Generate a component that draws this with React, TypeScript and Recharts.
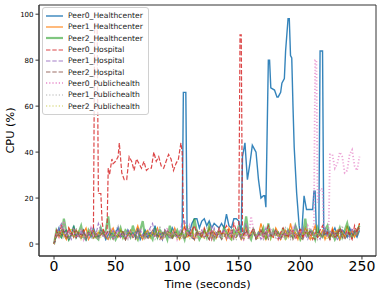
import { LineChart, Line, XAxis, YAxis, Legend, Label, ReferenceArea } from 'recharts';

// sampling helper for the regular 2-second parts of the log
const range = (from: number, to: number, step = 2) => {
  const out: number[] = [];
  for (let t = from; t <= to; t += step) out.push(t);
  return out;
};

const time = range(0, 248);

const hcPeer1 = [0,5,3,6,4,2,7,5,3,6, 4,3,5,7,2,4,6,3,5,4, 6,3,2,5,7,4,3,6,5,2, 4,6,3,5,8,4,2,5,6,3, 5,4,7,3,2,6,4,5,3,7, 4,2,5,8,3,4,6,2,5,4, 3,6,4,7,2,5,3,6,4,5, 2,7,4,3,6,5,2,4,8,3, 5,6,3,4,9,5,2,6,4,3, 7,5,2,4,6,3,9,4,5,2, 6,3,7,4,2,5,8,3,4,6, 2,5,3,7,4,6,2,5,3,8, 4,6,3,5,9];
const hcPeer2 = [0,6,4,3,11,5,2,4,7,3, 5,8,3,2,6,4,5,3,2,7, 4,6,12,3,5,2,4,7,3,6, 5,3,8,4,2,6,10,3,5,4, 2,7,3,6,4,5,2,8,3,4, 6,3,5,2,7,4,3,11,5,2, 4,6,3,8,5,2,4,6,3,7, 5,3,2,6,4,8,3,5,12,4, 2,6,3,5,4,7,2,9,3,6, 4,5,3,7,2,6,4,3,8,5, 2,4,11,3,6,5,2,7,4,3, 6,8,3,5,2,4,7,3,6,9, 4,3,5,6,8];
const hospPeer1 = [0,4,7,9,5,3,6,2,4,5, 3,6,4,2,5,7,3,4,9,6, 3,5,2,4,6,3,7,4,5,2, 6,3,4,5,2,6,4,3,5,7, 9,4,3,5,2,6,4,3,5,4, 3,5,9,10,6,4,3,2,5,4, 6,3,4,5,2,7,4,3,5,6, 2,4,5,3,6,4,2,5,9,3, 4,6,3,5,2,4,7,3,5,4, 6,3,2,5,4,6,3,4,8,5, 3,7,4,2,5,6,3,4,2,5, 7,3,6,4,5,2,3,6,4,5, 3,7,4,5,6];
const hospPeer2 = [0,3,5,4,6,2,4,5,3,6, 4,2,5,3,4,6,2,5,3,4, 5,3,6,4,2,5,4,3,6,2, 4,5,3,2,6,4,3,5,2,4, 6,3,4,2,5,3,6,4,2,5, 3,4,6,2,4,5,3,2,6,4, 5,3,4,2,6,3,5,4,2,3, 5,4,6,2,3,5,4,2,6,3, 4,5,2,3,6,4,5,2,4,3, 6,4,2,5,3,4,6,2,4,5, 3,2,5,4,6,3,2,4,5,3, 6,4,2,3,5,4,6,3,2,4, 5,3,6,4,7];
const phPeer1 = [0,5,4,8,3,6,2,4,5,7, 3,4,6,2,5,3,7,4,2,5, 6,3,4,5,2,6,8,3,4,5, 2,6,3,4,7,5,2,4,6,3, 5,2,4,8,3,6,4,2,5,3, 4,6,2,5,3,7,4,2,6,4, 3,5,7,2,4,6,3,5,2,4, 6,3,8,4,2,5,3,6,4,2, 5,7,3,4,6,2,5,3,4,6, 2,5,4,3,7,4,2,6,3,5, 4,2,6,5,3,4,7,2,5,3, 6,4,2,5,3,6,4,8,3,5, 2,4,6,3,8];
const phPeer2 = [0,4,6,3,5,2,4,7,3,5, 6,2,4,3,6,5,2,4,6,3, 5,4,2,6,3,5,4,7,2,4, 5,3,6,4,2,5,3,4,6,2, 5,4,3,6,2,4,5,3,6,4, 2,5,3,4,6,2,4,5,3,6, 4,2,5,3,4,6,2,5,4,3, 6,4,2,5,3,6,4,2,4,5, 3,6,4,2,5,4,3,6,2,4, 5,3,4,6,2,5,3,4,6,3, 2,5,4,6,3,2,5,4,3,6, 4,2,5,3,6,4,2,5,3,4, 6,3,5,4,6];

// Peer0 logs have extra samples around the bursts
const hcPeer0Time = [
  ...range(0, 102), 104, 105, 107, 108, ...range(110, 150),
  152, 153, 155, 157, 159, 161, 163, 164, 166, 168, 170, 171, 172, 174, 175, 176, 179, 181, 182, 184, 185, 187, 188,
  190, 191, 192, 193, 194, 195, 197, 198, 199, 200, 201, 203, 205, 210, 211, 212, 213, 215, 216, 218, 219, 220,
  ...range(222, 248),
];
const hcPeer0 = [
  0,4,7,3,5,6,2,4,8,3, 5,4,6,2,5,3,7,4,3,6, 5,2,4,6,3,5,7,3,4,2, 6,4,5,3,7,2,4,6,3,5, 4,8,3,5,2,6,4,3,7,5, 3,4,
  5, 66, 66, 6,
  5,9,11,11,7,10,11,8,10,7,9,8,7,9,7,13,8,7,11,11,10,
  5, 38, 44, 28, 35, 43, 41, 40, 28, 20, 21, 21, 16, 80, 80, 68, 67, 64, 64, 66, 70, 72, 84,
  98, 98, 82, 81, 60, 42, 22, 15, 8, 4, 4, 21, 15, 15, 23, 23, 5, 5, 84, 84, 5, 4,
  6,3,5,7,4,2,6,5,3,7,4,5,3,6,
];

const hospPeer0Time = [
  ...range(0, 32),
  33, 35, 36, 38, 39, 40, 42, 43, 44, 45, 47, 48, 50, 52, 53, 55, 57, 59, 61, 63, 65, 67, 69, 71, 73, 75, 77, 79,
  81, 83, 85, 87, 89, 91, 93, 95, 97, 99, 101, 103, 104, 105, 106,
  ...range(108, 148), 150, 151, 152, 153, ...range(154, 248),
];
const hospPeer0 = [
  0,6,4,8,5,3,7,4,6,3,5,4,6,3,5,4,6,
  96, 96, 22, 22, 10, 6, 4, 5, 33, 30, 37, 35, 36, 38, 44, 31, 28, 28, 38, 36, 32, 37, 35, 33, 36, 32, 33, 33,
  40, 36, 38, 34, 33, 36, 39, 37, 32, 35, 37, 44, 40, 12, 7,
  5,3,6,8,4,5,3,7,4,2,6,5,3,7,4,6,8,5,3,9,6,
  6, 91, 91, 5,
  4,6,3,5,7,2,4,6,3,5, 8,4,3,6,2,5,7,4,3,5, 6,2,4,7,3,5,6,4,2,5, 3,6,8,4,5,2,6,3,4,7, 5,3,6,4,2,8,5,9,
];

const phPeer0Time = [
  ...range(0, 210),
  211, 212, 213, 214, 216, 218, 219, 221, 223, 224, 226, 228, 230, 232, 234, 236, 238, 240, 242, 244, 246, 248,
];
const phPeer0 = [
  0,5,3,6,10,4,2,5,7,3, 4,6,2,5,3,7,4,5,2,6, 3,5,4,7,2,5,6,3,4,5, 2,6,3,5,4,7,3,2,5,6, 4,3,6,5,2,4,7,3,5,6,
  2,4,3,6,5,8,3,4,2,5, 6,3,5,4,7,2,4,6,3,5, 4,2,6,3,5,7,4,2,5,3, 12,6,4,3,5,2,6,4,7,3, 5,4,2,6,3,5,4,7,3,5,
  6,4,3,8,6,7,
  8, 80, 80, 18, 24, 24, 6, 5, 6, 39, 39, 33, 35, 40, 38, 31, 32, 39, 41, 34, 32, 38,
];

const xTicks = [0, 50, 100, 150, 200, 250];
const yTicks = [0, 20, 40, 60, 80, 100];
const xDomain: [number, number] = [-12.2, 261.4];
const yDomain: [number, number] = [-5.2, 104];

const toPoints = (ts: number[], vs: number[]) => ts.map((t, i) => ({ t, v: vs[i] }));

const DASHED = '4.4 1.9';
const DOTTED = '1.2 2';

const series = [
  { name: 'Peer0_Healthcenter', data: toPoints(hcPeer0Time, hcPeer0), color: '#1f77b4', width: 1.4, dash: undefined, opacity: 0.9 },
  { name: 'Peer1_Healthcenter', data: toPoints(time, hcPeer1), color: '#ff7f0e', width: 1.2, dash: undefined, opacity: 0.9 },
  { name: 'Peer2_Healthcenter', data: toPoints(time, hcPeer2), color: '#2ca02c', width: 2.2, dash: undefined, opacity: 0.6 },
  { name: 'Peer0_Hospital', data: toPoints(hospPeer0Time, hospPeer0), color: '#d62728', width: 1.2, dash: DASHED, opacity: 0.85 },
  { name: 'Peer1_Hospital', data: toPoints(time, hospPeer1), color: '#9467bd', width: 1.1, dash: DASHED, opacity: 0.85 },
  { name: 'Peer2_Hospital', data: toPoints(time, hospPeer2), color: '#8c564b', width: 1.1, dash: DASHED, opacity: 0.85 },
  { name: 'Peer0_Publichealth', data: toPoints(phPeer0Time, phPeer0), color: '#e377c2', width: 1.8, dash: DOTTED, opacity: 0.65 },
  { name: 'Peer1_Publichealth', data: toPoints(time, phPeer1), color: '#7f7f7f', width: 1.1, dash: DOTTED, opacity: 0.6 },
  { name: 'Peer2_Publichealth', data: toPoints(time, phPeer2), color: '#bcbd22', width: 1.1, dash: DOTTED, opacity: 0.75 },
];

const FONT = '"DejaVu Sans", sans-serif';

const renderLegend = () => (
  <div
    style={{
      border: '1px solid #d0d0d0',
      borderRadius: 3,
      background: 'rgba(255,255,255,0.8)',
      padding: '2px 5px 2px 3px',
      fontFamily: FONT,
      fontSize: 7.6,
      color: '#222',
    }}
  >
    {series.map((s) => (
      <div key={s.name} style={{ display: 'flex', alignItems: 'center', height: 11.3 }}>
        <svg width={17} height={6} style={{ marginRight: 5 }}>
          <line
            x1={0}
            y1={3}
            x2={17}
            y2={3}
            stroke={s.color}
            strokeWidth={s.width}
            strokeDasharray={s.dash}
            strokeOpacity={s.opacity}
          />
        </svg>
        <span style={{ whiteSpace: 'nowrap' }}>{s.name}</span>
      </div>
    ))}
  </div>
);

const App = () => {
  return (
    <div style={{ position: 'absolute', left: 0, top: 0, width: 382, height: 295, background: '#fff' }}>
      <LineChart width={382} height={295} margin={{ top: 5, right: 6, left: 0, bottom: 0 }}>
        <XAxis
          dataKey="t"
          type="number"
          domain={xDomain}
          ticks={xTicks}
          height={39}
          tickSize={3.5}
          tickMargin={2}
          stroke="#333"
          tick={{ fill: '#000', fontSize: 14, fontFamily: FONT }}
          allowDataOverflow
        >
          <Label
            content={({ viewBox }: any) => (
              <text
                x={viewBox.x + viewBox.width / 2}
                y={viewBox.y + viewBox.height - 7.5}
                textAnchor="middle"
                fontSize={11.3}
                fontFamily={FONT}
                fill="#000"
              >
                Time (seconds)
              </text>
            )}
          />
        </XAxis>
        <YAxis
          type="number"
          domain={yDomain}
          ticks={yTicks}
          width={39}
          tickSize={3.5}
          tickMargin={2}
          stroke="#333"
          tick={{ fill: '#000', fontSize: 7, fontFamily: FONT }}
          allowDataOverflow
        >
          <Label
            content={({ viewBox }: any) => {
              const cx = 10;
              const cy = viewBox.y + viewBox.height / 2;
              return (
                <text
                  x={cx}
                  y={cy}
                  transform={`rotate(-90 ${cx} ${cy})`}
                  textAnchor="middle"
                  dominantBaseline="central"
                  fontSize={11.3}
                  fontFamily={FONT}
                  fill="#000"
                >
                  CPU (%)
                </text>
              );
            }}
          />
        </YAxis>
        {/* full frame around the plot area, like matplotlib spines */}
        <ReferenceArea
          x1={xDomain[0]}
          x2={xDomain[1]}
          y1={yDomain[0]}
          y2={yDomain[1]}
          fill="none"
          stroke="#333"
          strokeWidth={1}
          ifOverflow="visible"
        />
        {series.map((s) => (
          <Line
            key={s.name}
            data={s.data}
            dataKey="v"
            name={s.name}
            type="linear"
            stroke={s.color}
            strokeWidth={s.width}
            strokeDasharray={s.dash}
            strokeOpacity={s.opacity}
            dot={false}
            activeDot={false}
            isAnimationActive={false}
          />
        ))}
        <Legend
          layout="vertical"
          align="center"
          verticalAlign="middle"
          content={renderLegend}
          wrapperStyle={{ top: 7, left: 42, width: 'auto' }}
        />
      </LineChart>
    </div>
  );
};

export default App;
